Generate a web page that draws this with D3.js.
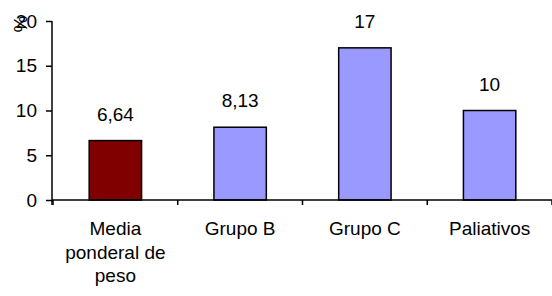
<!DOCTYPE html>
<html><head><meta charset="utf-8">
<script src="https://cdn.jsdelivr.net/npm/d3@7"></script>
<style>body{margin:0;background:#fff}svg{display:block}text{font-family:Arial,"Liberation Sans",sans-serif;fill:#000}</style>
</head><body><svg id="c" width="552" height="296"></svg>
<script>
const categories = ["Media ponderal de peso", "Grupo B", "Grupo C", "Paliativos"];
const categoryLines = [["Media", "ponderal de", "peso"], ["Grupo B"], ["Grupo C"], ["Paliativos"]];
const values = [6.64, 8.13, 17, 10];
const valueLabels = ["6,64", "8,13", "17", "10"];
const barColors = ["#800000", "#9999FF", "#9999FF", "#9999FF"];
const yTicks = [0, 5, 10, 15, 20];
const yLabel = "%";

const svg = d3.select("#c");
const fs = 19;
const x = d3.scaleBand().domain(categories).range([53, 552]).paddingInner(0.58).paddingOuter(0.29);
const y = d3.scaleLinear().domain([0, 20]).range([200, 21]);

// bars
svg.selectAll("rect.bar").data(values).join("rect")
  .attr("x", (d, i) => x(categories[i]))
  .attr("y", d => y(d))
  .attr("width", x.bandwidth())
  .attr("height", d => y(0) - y(d))
  .attr("fill", (d, i) => barColors[i])
  .attr("stroke", "#000").attr("stroke-width", 1.5);

// value labels
svg.selectAll("text.val").data(values).join("text")
  .attr("x", (d, i) => x(categories[i]) + x.bandwidth() / 2)
  .attr("y", d => y(d) - 20)
  .attr("text-anchor", "middle").attr("font-size", fs)
  .text((d, i) => valueLabels[i]);

// y axis
const yAxis = svg.append("g").attr("transform", "translate(52,0)")
  .call(d3.axisLeft(y).tickValues(yTicks).tickSize(6).tickPadding(9).tickFormat(d3.format("d")));
yAxis.select(".domain").attr("d", `M0,${y(20)}V205`).attr("stroke", "#000").attr("stroke-width", 1.5);
yAxis.selectAll(".tick line").attr("stroke", "#000").attr("stroke-width", 1.5);
yAxis.selectAll(".tick text").attr("font-size", fs).attr("font-family", "Arial, 'Liberation Sans', sans-serif").attr("fill", "#000");

// x axis
const step = x.step();
const x0 = x.range()[0];
const bounds = d3.range(categories.length + 1).map(i => x0 + i * step);
svg.append("line").attr("x1", 52).attr("x2", 552).attr("y1", y(0)).attr("y2", y(0))
  .attr("stroke", "#000").attr("stroke-width", 1.5);
svg.selectAll("line.xt").data(bounds).join("line")
  .attr("x1", d => d).attr("x2", d => d).attr("y1", y(0)).attr("y2", y(0) + 5)
  .attr("stroke", "#000").attr("stroke-width", 1.5);

// category labels
const cl = svg.selectAll("text.cat").data(categories).join("text")
  .attr("text-anchor", "middle").attr("font-size", fs)
  .attr("transform", (d, i) => `translate(${x(d) + x.bandwidth() / 2},235)`);
cl.each(function(d, i) {
  d3.select(this).selectAll("tspan").data(categoryLines[i]).join("tspan")
    .attr("x", 0).attr("y", (t, j) => j * 23.5).text(t => t);
});

// y label
svg.append("text").attr("transform", "translate(27,24) rotate(-90)")
  .attr("text-anchor", "middle").attr("font-size", fs).text(yLabel);
</script></body></html>
